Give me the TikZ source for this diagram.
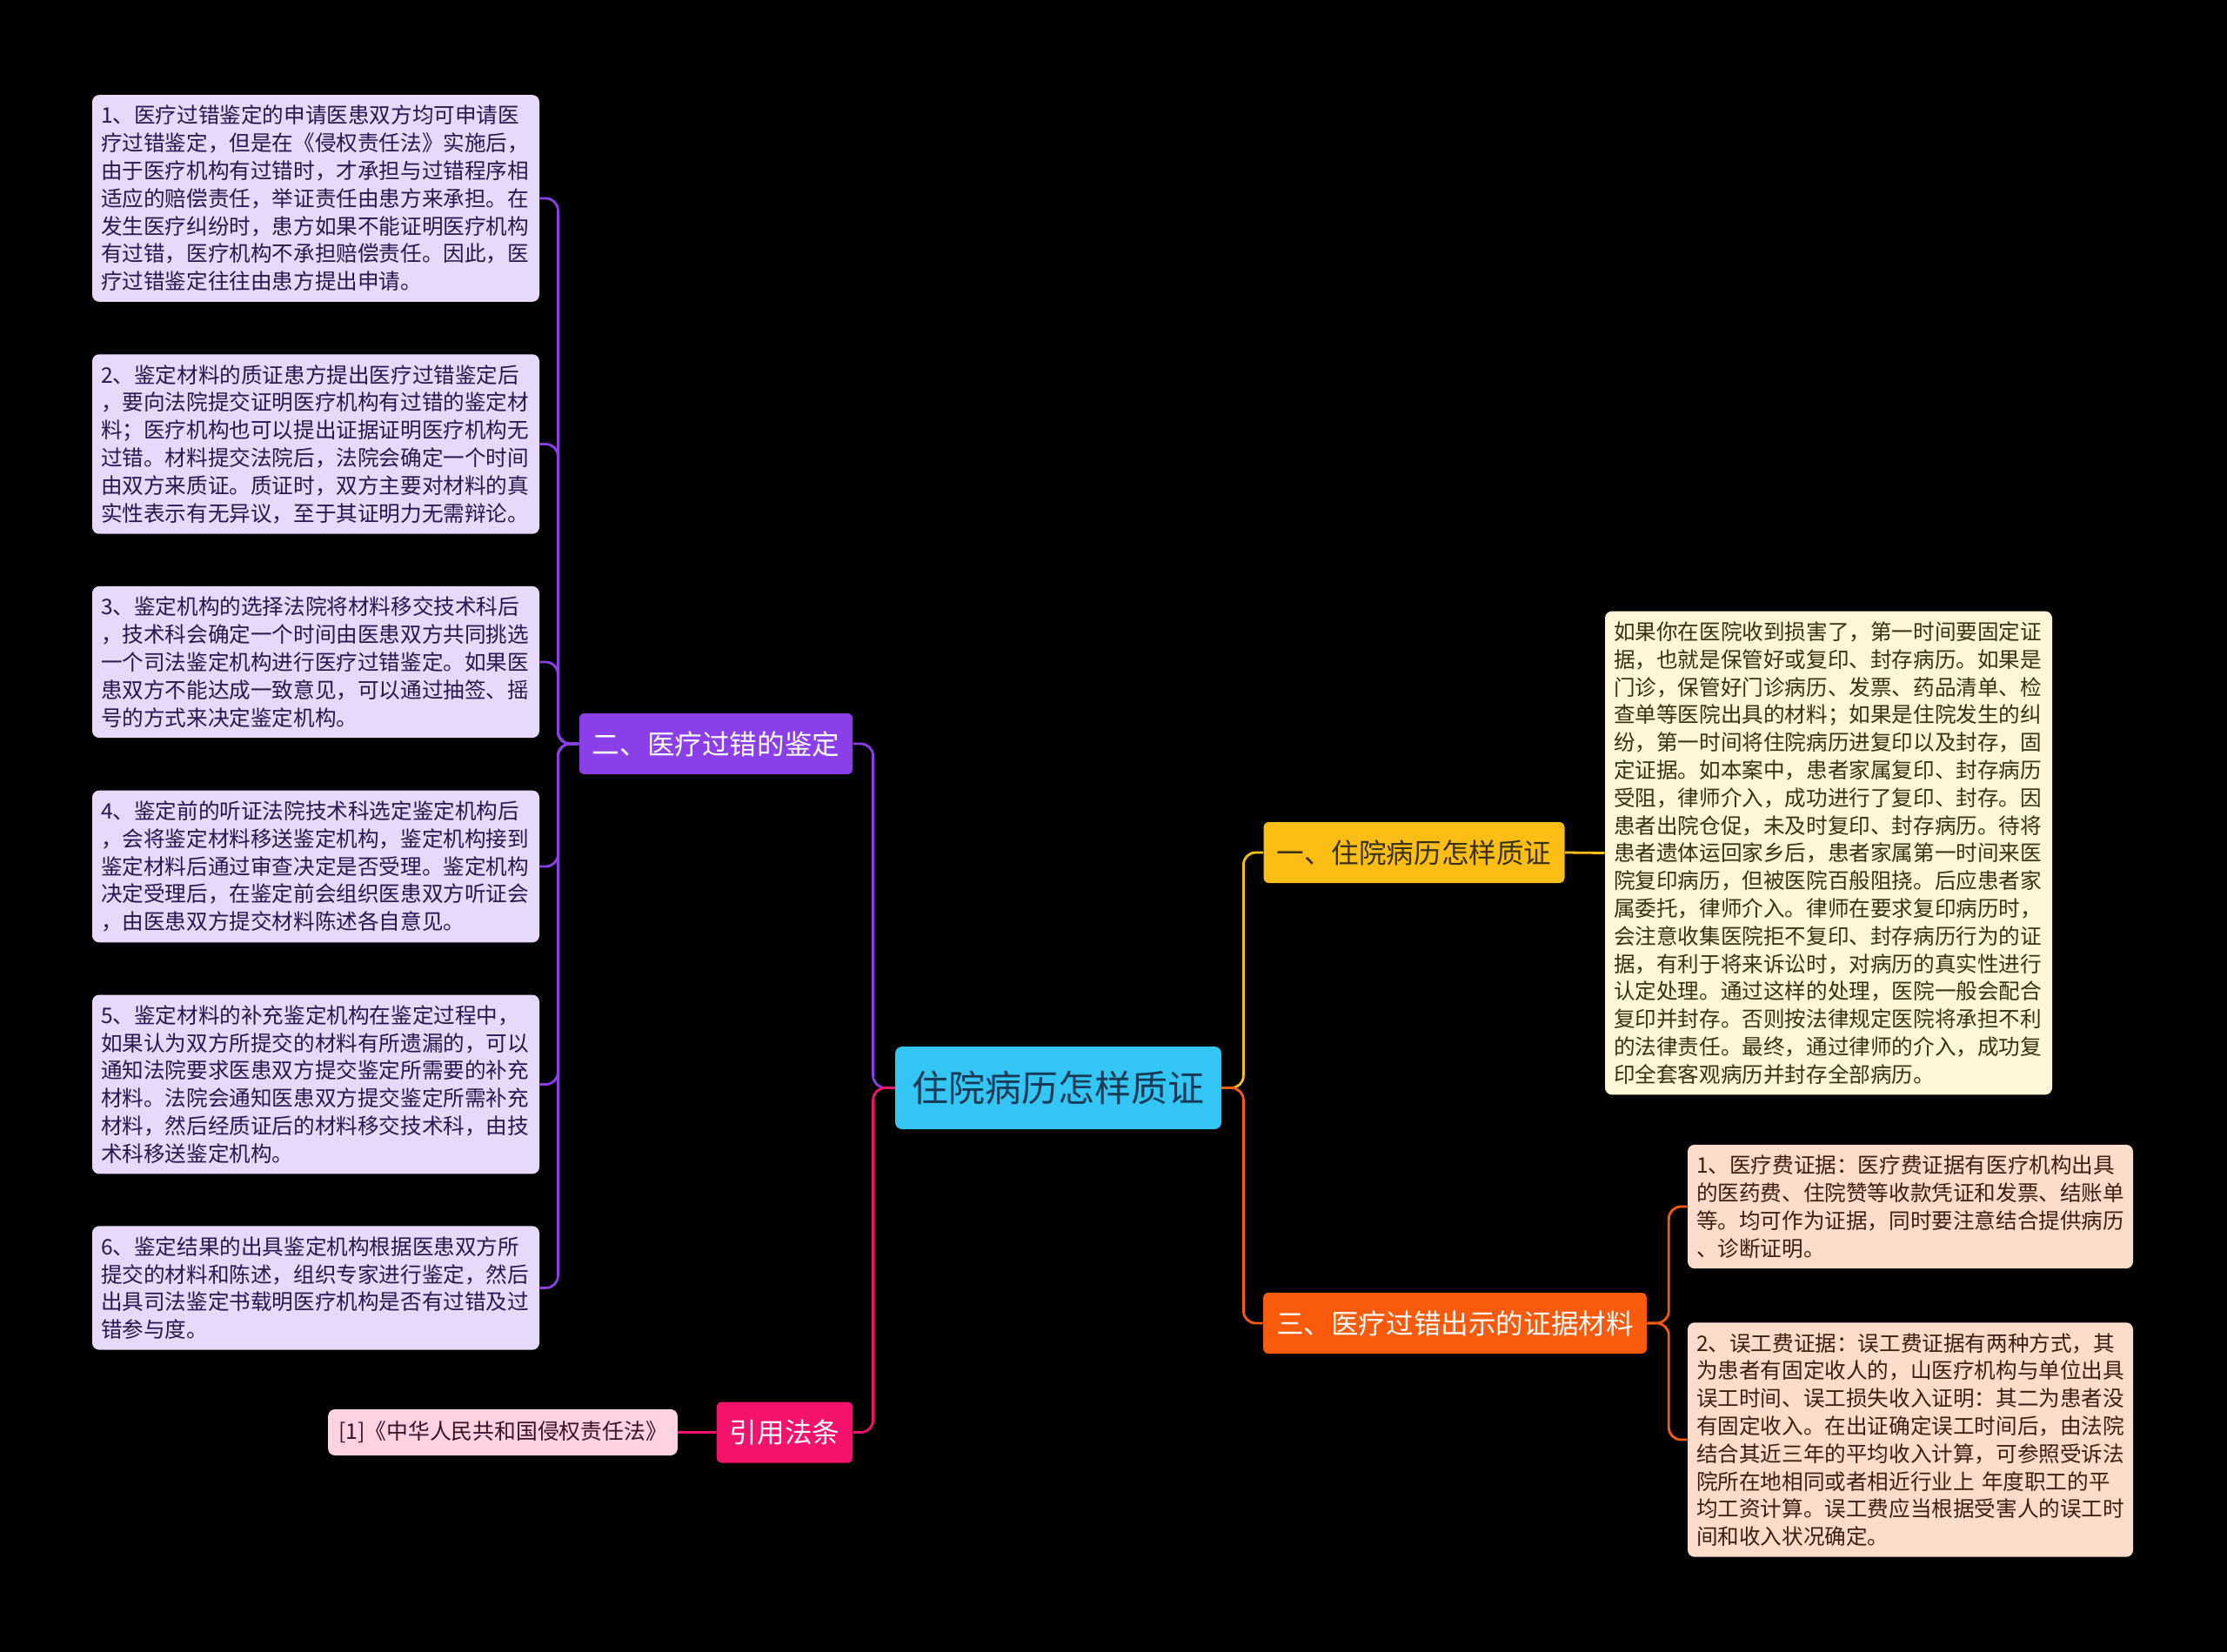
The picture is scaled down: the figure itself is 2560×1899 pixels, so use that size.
\documentclass[tikz,border=0pt]{standalone}
\usepackage{fontspec}
\setmainfont{Noto Sans CJK SC}
\usetikzlibrary{positioning}
\definecolor{rootc}   {HTML}{33C6F4}
\definecolor{rootink} {HTML}{173A56}
\definecolor{purplec} {HTML}{8A3FE8}
\definecolor{pinkc}   {HTML}{F5126C}
\definecolor{yellowc} {HTML}{FBBE15}
\definecolor{orangec} {HTML}{FA5A0C}
\definecolor{purplebg}{HTML}{E6D9FA}
\definecolor{yellowbg}{HTML}{FFF5D7}
\definecolor{orangebg}{HTML}{FDDCCB}
\definecolor{pinkbg}  {HTML}{FFD2E2}
\definecolor{purpleink}{HTML}{2A1650}
\definecolor{yellowink}{HTML}{3A3114}
\definecolor{orangeink}{HTML}{3D1E10}
\definecolor{pinkink} {HTML}{3A1026}
\tikzset{
  rootbox/.style  ={fill=rootc, text=rootink, rounded corners=4pt,
                    minimum width=187.5pt, minimum height=47.5pt,
                    inner sep=0pt, font=\fontsize{21}{25}\selectfont},
  branch/.style   ={rounded corners=3pt, minimum height=35pt,
                    inner xsep=7.5pt, inner ysep=0pt, text=white,
                    font=\fontsize{15.8}{19}\selectfont},
  leaf/.style     ={rounded corners=4pt, text width=247pt, align=left,
                    inner xsep=5pt, inner ysep=6pt,
                    font=\fontsize{12.3}{15.9}\selectfont},
  pleaf/.style    ={leaf, fill=purplebg, text=purpleink},
  yleaf/.style    ={leaf, fill=yellowbg, text=yellowink},
  oleaf/.style    ={leaf, fill=orangebg, text=orangeink, text width=246pt},
  link/.style     ={line width=1.4pt, rounded corners=7pt},
}

\begin{document}
\begin{tikzpicture}[x=0.5pt,y=-0.5pt]
  \fill[black] (0,0) rectangle (2560,1899);

  % centre and main branches
  \node[rootbox] (root) at (1216.5,1250.5) {住院病历怎样质证};
  \node[branch,fill=purplec] (b2) at (823,855) {二、医疗过错的鉴定};
  \node[branch,fill=pinkc] (bref) at (902,1646.5) {引用法条};
  \node[branch,fill=yellowc,text=yellowink] (b1) at (1625.5,980) {一、住院病历怎样质证};
  \node[branch,fill=orangec] (b3) at (1672.5,1521) {三、医疗过错出示的证据材料};

  % left leaves
  \node[pleaf] (p1) at (363,228)
    {1、医疗过错鉴定的申请医患双方均可申请医\\
     疗过错鉴定，但是在《侵权责任法》实施后，\\
     由于医疗机构有过错时，才承担与过错程序相\\
     适应的赔偿责任，举证责任由患方来承担。在\\
     发生医疗纠纷时，患方如果不能证明医疗机构\\
     有过错，医疗机构不承担赔偿责任。因此，医\\
     疗过错鉴定往往由患方提出申请。};
  \node[pleaf] (p2) at (363,510.5)
    {2、鉴定材料的质证患方提出医疗过错鉴定后\\
     ，要向法院提交证明医疗机构有过错的鉴定材\\
     料；医疗机构也可以提出证据证明医疗机构无\\
     过错。材料提交法院后，法院会确定一个时间\\
     由双方来质证。质证时，双方主要对材料的真\\
     实性表示有无异议，至于其证明力无需辩论。};
  \node[pleaf] (p3) at (363,761)
    {3、鉴定机构的选择法院将材料移交技术科后\\
     ，技术科会确定一个时间由医患双方共同挑选\\
     一个司法鉴定机构进行医疗过错鉴定。如果医\\
     患双方不能达成一致意见，可以通过抽签、摇\\
     号的方式来决定鉴定机构。};
  \node[pleaf] (p4) at (363,996)
    {4、鉴定前的听证法院技术科选定鉴定机构后\\
     ，会将鉴定材料移送鉴定机构，鉴定机构接到\\
     鉴定材料后通过审查决定是否受理。鉴定机构\\
     决定受理后，在鉴定前会组织医患双方听证会\\
     ，由医患双方提交材料陈述各自意见。};
  \node[pleaf] (p5) at (363,1246.5)
    {5、鉴定材料的补充鉴定机构在鉴定过程中，\\
     如果认为双方所提交的材料有所遗漏的，可以\\
     通知法院要求医患双方提交鉴定所需要的补充\\
     材料。法院会通知医患双方提交鉴定所需补充\\
     材料，然后经质证后的材料移交技术科，由技\\
     术科移送鉴定机构。};
  \node[pleaf] (p6) at (363,1480.5)
    {6、鉴定结果的出具鉴定机构根据医患双方所\\
     提交的材料和陈述，组织专家进行鉴定，然后\\
     出具司法鉴定书载明医疗机构是否有过错及过\\
     错参与度。};
  \node[rounded corners=4pt,fill=pinkbg,text=pinkink,inner xsep=6pt,
        minimum height=26.5pt,font=\fontsize{12.4}{15}\selectfont]
    (ref1) at (578,1646.5) {[1]《中华人民共和国侵权责任法》};

  % right leaves
  \node[yleaf] (y1) at (2102,980.5)
    {如果你在医院收到损害了，第一时间要固定证\\
     据，也就是保管好或复印、封存病历。如果是\\
     门诊，保管好门诊病历、发票、药品清单、检\\
     查单等医院出具的材料；如果是住院发生的纠\\
     纷，第一时间将住院病历进复印以及封存，固\\
     定证据。如本案中，患者家属复印、封存病历\\
     受阻，律师介入，成功进行了复印、封存。因\\
     患者出院仓促，未及时复印、封存病历。待将\\
     患者遗体运回家乡后，患者家属第一时间来医\\
     院复印病历，但被医院百般阻挠。后应患者家\\
     属委托，律师介入。律师在要求复印病历时，\\
     会注意收集医院拒不复印、封存病历行为的证\\
     据，有利于将来诉讼时，对病历的真实性进行\\
     认定处理。通过这样的处理，医院一般会配合\\
     复印并封存。否则按法律规定医院将承担不利\\
     的法律责任。最终，通过律师的介入，成功复\\
     印全套客观病历并封存全部病历。};
  \node[oleaf] (o1) at (2196,1387)
    {1、医疗费证据：医疗费证据有医疗机构出具\\
     的医药费、住院赞等收款凭证和发票、结账单\\
     等。均可作为证据，同时要注意结合提供病历\\
     、诊断证明。};
  \node[oleaf] (o2) at (2196,1655)
    {2、误工费证据：误工费证据有两种方式，其\\
     为患者有固定收人的，山医疗机构与单位出具\\
     误工时间、误工损失收入证明：其二为患者没\\
     有固定收入。在出证确定误工时间后，由法院\\
     结合其近三年的平均收入计算，可参照受诉法\\
     院所在地相同或者相近行业上 年度职工的平\\
     均工资计算。误工费应当根据受害人的误工时\\
     间和收入状况确定。};

  % connectors
  \draw[link,purplec] (root.west) -- ++(-25,0) |- (b2.east);
  \draw[link,pinkc] (root.west) -- ++(-25,0) |- (bref.east);
  \draw[link,yellowc] (root.east) -- ++(25,0) |- (b1.west);
  \draw[link,orangec] (root.east) -- ++(25,0) |- (b3.west);
  \foreach \i in {1,...,6}
    \draw[link,purplec] (b2.west) -- ++(-24,0) |- (p\i.east);
  \draw[link,yellowc] (b1.east) -- (y1.west);
  \foreach \i in {1,2}
    \draw[link,orangec] (b3.east) -- ++(25,0) |- (o\i.west);
  \draw[link,pinkc] (bref.west) -- (ref1.east);
\end{tikzpicture}
\end{document}
